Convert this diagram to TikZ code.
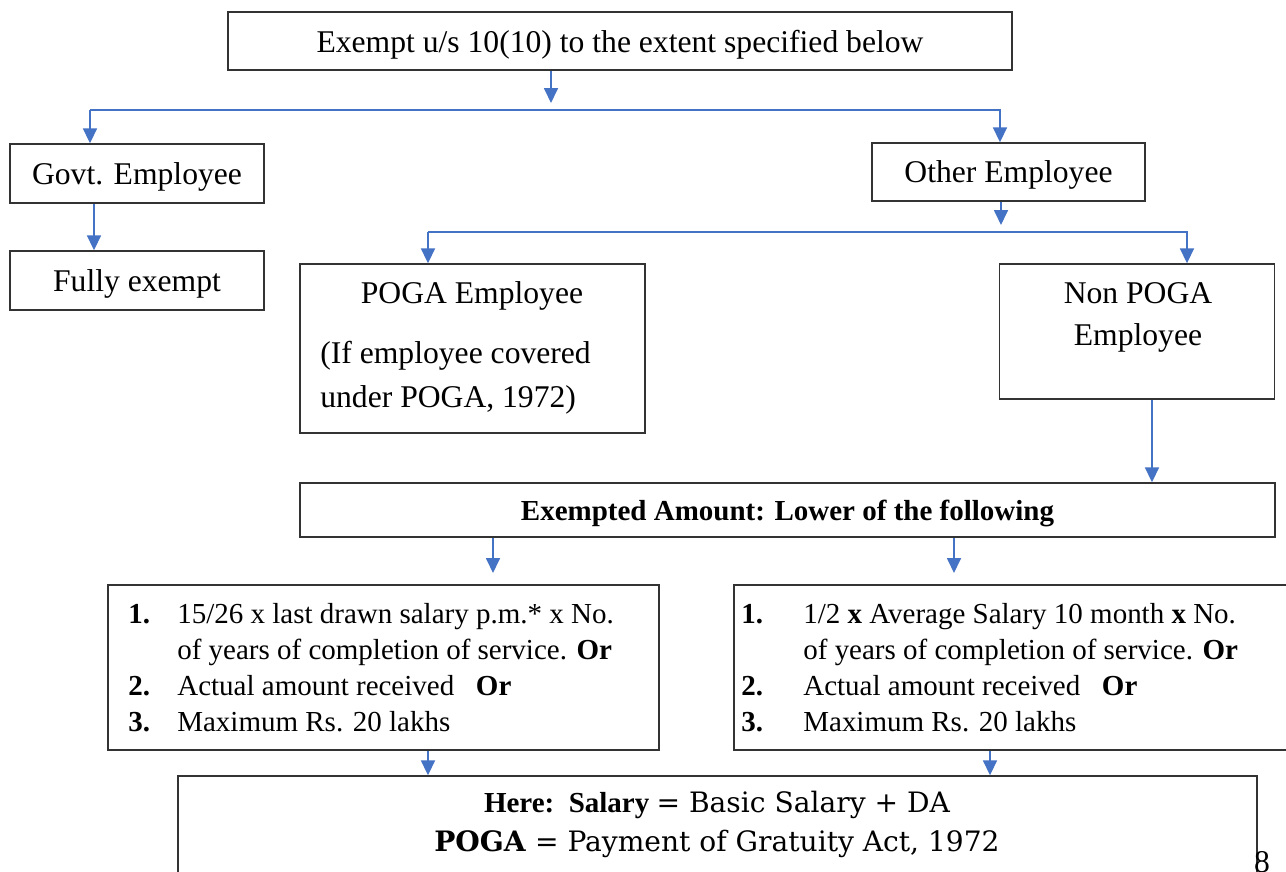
\documentclass[tikz,border=0pt]{standalone}
\usepackage{fontspec}
\setmainfont{Liberation Serif}
\newfontfamily\wideserif{DejaVu Serif}
\usetikzlibrary{arrows.meta,positioning}
\definecolor{arrowblue}{HTML}{4472C4}
\definecolor{framegray}{HTML}{333333}
\newcommand{\bigfont}{\fontsize{18}{22}\selectfont}
\newcommand{\listfont}{\fontsize{16.5}{20}\selectfont}
\newcommand{\notefont}{\fontsize{16}{20}\selectfont}

\begin{document}
\begin{tikzpicture}[
    x=0.02cm, y=-0.02cm,
    >={Triangle[length=0.3cm,width=0.28cm]},
    box/.style  = {draw=framegray, line width=0.8pt, inner sep=0pt, text depth=0pt, font=\bigfont},
    txt/.style  = {inner sep=0pt, font=\bigfont},
    item/.style = {inner sep=0pt, font=\listfont, anchor=base west},
    arr/.style  = {draw=arrowblue, line width=1pt, ->},
  ]
	\useasboundingbox (0,0) rectangle (1286,872);
	\clip (0,0) rectangle (1286,872);
	
	% Kaesten
	\node[box, minimum width=15.68cm, minimum height=1.16cm] (top) at (620,41) {Exempt u/s 10(10) to the extent specified below};
	\node[box, minimum width=5.08cm, minimum height=1.18cm] (govt) at (137,173.5) {Govt. Employee};
	\node[box, minimum width=5.46cm, minimum height=1.16cm] (other) at (1008.5,172) {Other Employee};
	\node[box, minimum width=5.08cm, minimum height=1.18cm] (fully) at (137,280.5) {Fully exempt};
	\node[box, minimum width=6.9cm, minimum height=3.38cm] (poga) at (472.5,348.5) {};
	\node[box, minimum width=5.5cm, minimum height=2.7cm] (nonpoga) at (1137,331.5) {};
	\node[box, minimum width=19.5cm, minimum height=1.08cm, font=\listfont\bfseries] (amount) at (787.5,510) {Exempted Amount: Lower of the following};
	\node[box, minimum width=11.02cm, minimum height=3.3cm] (listL) at (383.5,667.5) {};
	\node[box, minimum width=11.6cm, minimum height=3.3cm] (listR) at (1024,667.5) {};
	\node[box, minimum width=21.58cm, minimum height=2.6cm] (note) at (717.5,841) {};
	
	% Text POGA
	\node[txt, anchor=base] (pogaT) at (472,303) {POGA Employee};
	\node[txt, anchor=base west] (pogaA) at (320,363) {(If employee covered};
	\node[txt, anchor=base west] (pogaB) at (320,407) {under POGA, 1972)};
	
	% Text Non POGA
	\node[txt, anchor=base] (nonT) at (1138,303) {Non POGA};
	\node[txt, anchor=base] (nonB) at (1138,345) {Employee};
	
	% Liste links
	\node[item] (l1n) at (128,623) {\textbf{1.}};
	\node[item] (l1a) at (177,623) {15/26 x last drawn salary p.m.* x No.};
	\node[item] (l1b) at (177,659) {of years of completion of service. \textbf{Or}};
	\node[item] (l2n) at (128,695) {\textbf{2.}};
	\node[item] (l2a) at (177,695) {Actual amount received \ \ \textbf{Or}};
	\node[item] (l3n) at (128,731) {\textbf{3.}};
	\node[item] (l3a) at (177,731) {Maximum Rs. 20 lakhs};
	
	% Liste rechts
	\node[item] (r1n) at (741,623) {\textbf{1.}};
	\node[item] (r1a) at (803,623) {1/2 \textbf{x} Average Salary 10 month \textbf{x} No.};
	\node[item] (r1b) at (803,659) {of years of completion of service. \textbf{Or}};
	\node[item] (r2n) at (741,695) {\textbf{2.}};
	\node[item] (r2a) at (803,695) {Actual amount received \ \ \textbf{Or}};
	\node[item] (r3n) at (741,731) {\textbf{3.}};
	\node[item] (r3a) at (803,731) {Maximum Rs. 20 lakhs};
	
	% Anmerkung
	\node[txt, anchor=base, font=\listfont] (noteA) at (717,812) {\textbf{Here:}\ \ \textbf{Salary} {\wideserif\notefont = Basic Salary + DA}};
	\node[txt, anchor=base, font=\notefont\wideserif] (noteB) at (717,851) {\textbf{POGA} = Payment of Gratuity Act, 1972};
	\node[txt, anchor=base] (pagenum) at (1262,872) {8};
	
	% Verbindungen oben
	\coordinate (busA) at (551,103);
	\coordinate (busL) at (90,110);
	\coordinate (busR) at (1000,110);
	\draw[arr] (top.south -| busA) -- (busA);
	\draw[arr] (busL) -- (busR) -- (busR |- other.north);
	\draw[arr] (busL) -- (busL |- govt.north);
	
	% Govt -> Fully
	\coordinate (gx) at (94,0);
	\draw[arr] (govt.south -| gx) -- (fully.north -| gx);
	
	% Other -> POGA / Non POGA
	\coordinate (busB) at (1001,225);
	\coordinate (busC) at (428,232);
	\coordinate (busD) at (1187,232);
	\draw[arr] (other.south -| busB) -- (busB);
	\draw[arr] (busC) -- (busD) -- (busD |- nonpoga.north);
	\draw[arr] (busC) -- (busC |- poga.north);
	
	% Non POGA -> Betrag
	\coordinate (nx) at (1152,0);
	\draw[arr] (nonpoga.south -| nx) -- (amount.north -| nx);
	
	% Betrag -> Listen
	\coordinate (lowL) at (493,573);
	\coordinate (lowR) at (954,573);
	\draw[arr] (amount.south -| lowL) -- (lowL);
	\draw[arr] (amount.south -| lowR) -- (lowR);
	
	% Listen -> Anmerkung
	\coordinate (ax) at (428,0);
	\coordinate (bx) at (990,0);
	\draw[arr] (listL.south -| ax) -- (note.north -| ax);
	\draw[arr] (listR.south -| bx) -- (note.north -| bx);
	
\end{tikzpicture}
\end{document}
